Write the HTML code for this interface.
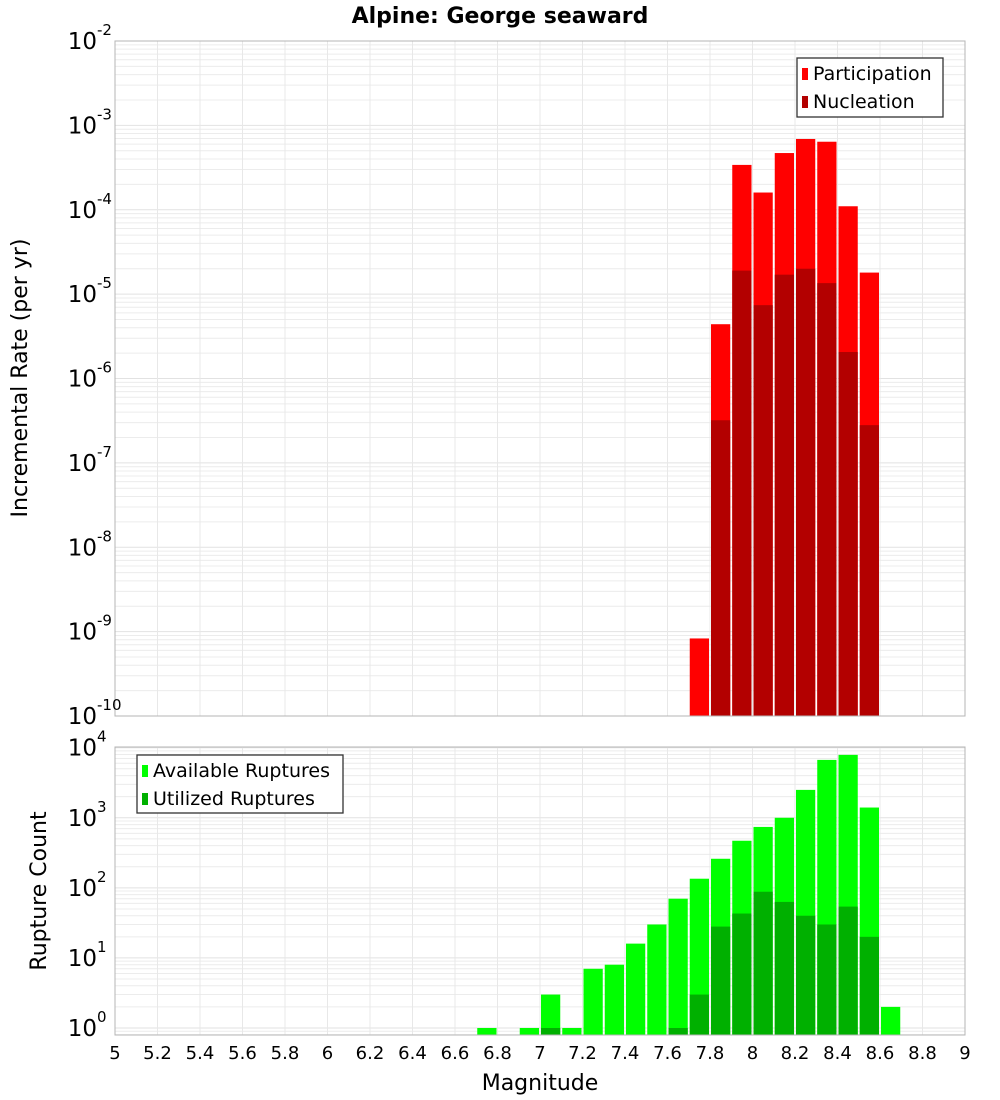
<!DOCTYPE html>
<html><head><meta charset="utf-8"><style>
body{margin:0;background:#fff}
svg{display:block;font-family:"DejaVu Sans","Liberation Sans",sans-serif}
</style></head><body>
<svg id="chartsvg" width="1000" height="1100" viewBox="0 0 1000 1100">
<text x="500" y="23" text-anchor="middle" font-weight="bold" font-size="22">Alpine: George seaward</text>
<text transform="translate(27,378) rotate(-90)" text-anchor="middle" font-size="22">Incremental Rate (per yr)</text>
<text transform="translate(46,891) rotate(-90)" text-anchor="middle" font-size="22">Rupture Count</text>
<text x="540" y="1090" text-anchor="middle" font-size="22">Magnitude</text>
<g id="gtopplot"></g>
<g id="gbotplot"></g>
</svg>
<script>
var mags=[6.75,6.85,6.95,7.05,7.15,7.25,7.35,7.45,7.55,7.65,7.75,7.85,7.95,8.05,8.15,8.25,8.35,8.45,8.55,8.65];
var participation=[0,0,0,0,0,0,0,0,0,0,8.3e-10,4.4e-6,3.4e-4,1.6e-4,4.7e-4,6.9e-4,6.4e-4,1.1e-4,1.8e-5,0];
var nucleation=[0,0,0,0,0,0,0,0,0,0,0,3.2e-7,1.9e-5,7.4e-6,1.7e-5,2.0e-5,1.35e-5,2.06e-6,2.8e-7,0];
var available=[1,0,1,3,1,7,8,16,30,70,135,260,470,740,1000,2500,6700,7900,1400,2];
var utilized=[0,0,0,1,0,0,0,0,0,1,3,28,43,88,63,40,30,54,20,0];
var xTicks=["5","5.2","5.4","5.6","5.8","6","6.2","6.4","6.6","6.8","7","7.2","7.4","7.6","7.8","8","8.2","8.4","8.6","8.8","9"];
var topExps=[-2,-3,-4,-5,-6,-7,-8,-9,-10];
var botExps=[4,3,2,1,0];

var SVGNS="http://www.w3.org/2000/svg";
var PX0=115,PX1=965,MMIN=5,MMAX=9;
function xScale(m){return PX0+(m-MMIN)/(MMAX-MMIN)*(PX1-PX0);}
function mkEl(tag,at,parent){
  var el=document.createElementNS(SVGNS,tag);
  for(var k in at){el.setAttribute(k,String(at[k]));}
  parent.appendChild(el);
  return el;
}
function log10(v){return Math.log(v)/Math.LN10;}

function drawPanel(g,pTop,pBot,lmin,lmax,exps,series,colors,names,legend,legendNames){
  function yScale(v){return pBot-(log10(v)-lmin)/(lmax-lmin)*(pBot-pTop);}
  var d,k,i,si,el,y,x;
  for(d=Math.floor(lmin);d<=Math.ceil(lmax);d++){
    for(k=1;k<10;k++){
      var lv=d+log10(k);
      if(lv<lmin||lv>lmax)continue;
      y=pBot-(lv-lmin)/(lmax-lmin)*(pBot-pTop);
      el=mkEl('line',{x1:PX0,x2:PX1,y1:y,y2:y,stroke:(k==1?'#e2e2e2':'#ececec'),'stroke-width':1},g);
      
      
    }
  }
  for(i=0;i<xTicks.length;i++){
    x=xScale(parseFloat(xTicks[i]));
    el=mkEl('line',{x1:x,x2:x,y1:pTop,y2:pBot,stroke:'#e8e8e8','stroke-width':1},g);
    
    
  }
  var bw=xScale(5.1)-xScale(5);
  for(si=0;si<series.length;si++){
    var s=series[si];
    for(i=0;i<s.length;i++){
      var v=s[i];
      if(!(v>0))continue;
      y=Math.max(pTop,yScale(v));
      el=mkEl('rect',{x:xScale(mags[i]-0.05)+1,y:y,width:bw-2,height:pBot-y,fill:colors[si]},g);
      
      
    }
  }
  el=mkEl('rect',{x:PX0,y:pTop,width:PX1-PX0,height:pBot-pTop,fill:'none',stroke:'#b5b5b5','stroke-width':1},g);
  
  
  for(i=0;i<exps.length;i++){
    y=yScale(Math.pow(10,exps[i]));
    el=mkEl('text',{x:97,y:y+8,'text-anchor':'end','font-size':23},g);
    el.textContent='10';
    
    
    el=mkEl('text',{x:97,y:y-6,'font-size':15},g);
    el.textContent=String(exps[i]);
    
    
  }
  var lx=legend[0],ly=legend[1],lw=legend[2],lh=legend[3];
  el=mkEl('rect',{x:lx,y:ly,width:lw,height:lh,fill:'#fff',stroke:'#333','stroke-width':1.3},g);
  
  
  for(i=0;i<legendNames.length;i++){
    el=mkEl('rect',{x:lx+5,y:ly+10+i*28,width:6,height:12,fill:colors[i]},g);
    
    
    el=mkEl('text',{x:lx+16,y:ly+22+i*28,'font-size':19},g);
    el.textContent=legendNames[i];
    
    
  }
}
drawPanel(document.getElementById('gtopplot'),41,716,-10,-2,topExps,[participation,nucleation],['#ff0000','#b30000'],['participation','nucleation'],[797,58,146,59],['Participation','Nucleation']);
drawPanel(document.getElementById('gbotplot'),747,1035,-0.1,4.01,botExps,[available,utilized],['#00ff00','#00b000'],['available','utilized'],[137,755,206,58],['Available Ruptures','Utilized Ruptures']);
var chartSvg=document.getElementById('chartsvg');
for(var ti=0;ti<xTicks.length;ti++){
  var tl=mkEl('text',{x:xScale(parseFloat(xTicks[ti])),y:1059,'text-anchor':'middle','font-size':18},chartSvg);
  tl.textContent=xTicks[ti];
  
  
}
</script>
</body></html>
